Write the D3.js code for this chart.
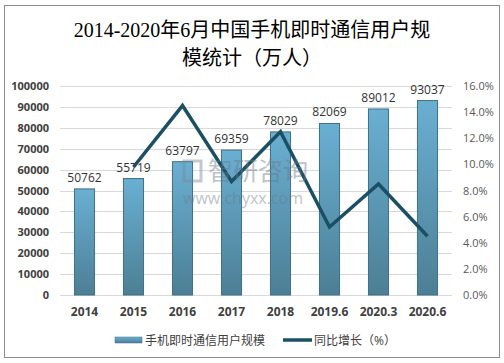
<!DOCTYPE html>
<meta charset="utf-8">
<script src="https://d3js.org/d3.v7.min.js"></script>
<style>
  body { margin: 0; background: #fff; }
  text { font-family: "Open Sans", "Noto Sans CJK SC", sans-serif; }
</style>
<div id="chart"></div>
<script>
  // data
  var categories = ["2014", "2015", "2016", "2017", "2018", "2019.6", "2020.3", "2020.6"];
  var users = [50762, 55719, 63797, 69359, 78029, 82069, 89012, 93037];
  var growth = [null, 9.8, 14.5, 8.7, 12.5, 5.2, 8.5, 4.5];
  var leftTicks = [0, 10000, 20000, 30000, 40000, 50000, 60000, 70000, 80000, 90000, 100000];
  var rightTicks = [0, 2, 4, 6, 8, 10, 12, 14, 16];

  var W = 504, H = 363;
  var margin = {top: 86, right: 52, bottom: 68, left: 60};
  var width = W - margin.left - margin.right,
      height = H - margin.top - margin.bottom;

  var svg = d3.select("#chart").append("svg")
    .attr("width", W).attr("height", H);

  // outer frame
  svg.append("rect")
    .attr("x", 4.5).attr("y", 5.5).attr("width", 495).attr("height", 352)
    .attr("fill", "#fff").attr("stroke", "#8c8c8c").attr("stroke-width", 1);

  var defs = svg.append("defs");
  var grad = defs.append("linearGradient").attr("id", "barGrad")
    .attr("x1", 0).attr("y1", 0).attr("x2", 0).attr("y2", 1);
  grad.append("stop").attr("offset", "0%").attr("stop-color", "#6aafd2");
  grad.append("stop").attr("offset", "100%").attr("stop-color", "#4c7f95");

  // title
  var title = svg.append("text")
    .attr("text-anchor", "middle")
    .style("font-family", "'Liberation Serif', 'Noto Sans CJK SC', serif")
    .style("font-size", "20px")
    .attr("fill", "#000");
  title.append("tspan").attr("x", W / 2).attr("y", 37).text("2014-2020年6月中国手机即时通信用户规");
  title.append("tspan").attr("x", W / 2).attr("y", 65).text("模统计（万人）");

  var g = svg.append("g")
    .attr("transform", "translate(" + margin.left + "," + margin.top + ")");

  var x = d3.scaleBand().domain(categories).range([0, width]).paddingInner(0.59).paddingOuter(0.295);
  var y = d3.scaleLinear().domain([0, 100000]).range([height, 0]);
  var y2 = d3.scaleLinear().domain([0, 16]).range([height, 0]);

  // grid
  g.selectAll(".grid").data(leftTicks).enter().append("line")
    .attr("x1", 0).attr("x2", width)
    .attr("y1", function(d) { return Math.round(y(d)) + 0.5; })
    .attr("y2", function(d) { return Math.round(y(d)) + 0.5; })
    .attr("stroke", "#d9d9d9");

  // left axis
  var yAxis = g.append("g").attr("transform", "translate(-8,0)")
    .call(d3.axisLeft(y).tickValues(leftTicks).tickSize(0).tickPadding(3).tickFormat(d3.format("d")));
  yAxis.select(".domain").remove();
  yAxis.selectAll("text")
    .style("font-size", "11px").style("font-weight", "bold").attr("fill", "#404040");

  // right axis
  var y2Axis = g.append("g").attr("transform", "translate(" + (width + 8) + ",0)")
    .call(d3.axisRight(y2).tickValues(rightTicks).tickSize(0).tickPadding(3)
      .tickFormat(function(d) { return d.toFixed(1) + "%"; }));
  y2Axis.select(".domain").remove();
  y2Axis.selectAll("text")
    .style("font-size", "11px").attr("fill", "#595959");

  // x axis
  var xAxis = g.append("g").attr("transform", "translate(0," + height + ")")
    .call(d3.axisBottom(x).tickSize(0).tickPadding(12));
  xAxis.select(".domain").remove();
  xAxis.selectAll("text")
    .style("font-size", "12px").style("font-weight", "bold").attr("fill", "#404040");

  // bars
  g.selectAll(".bar").data(users).enter().append("rect")
    .attr("x", function(d, i) { return x(categories[i]); })
    .attr("y", function(d) { return y(d); })
    .attr("width", x.bandwidth())
    .attr("height", function(d) { return height - y(d); })
    .attr("fill", "url(#barGrad)")
    .attr("stroke", "#3f6f84").attr("stroke-width", 1);

  // value labels
  g.selectAll(".val").data(users).enter().append("text")
    .attr("x", function(d, i) { return x(categories[i]) + x.bandwidth() / 2; })
    .attr("y", function(d) { return y(d) - 7; })
    .attr("text-anchor", "middle")
    .style("font-size", "12px").attr("fill", "#333")
    .text(function(d) { return d; });

  // watermark
  var wm = svg.append("g").attr("opacity", 0.45);
  wm.append("rect").attr("x", 184).attr("y", 161).attr("width", 17).attr("height", 20)
    .attr("fill", "none").attr("stroke", "#7a8a9a").attr("stroke-width", 3);
  wm.append("text").attr("x", 208).attr("y", 180)
    .style("font-size", "25px").attr("fill", "#6b7a88").text("智研咨询");
  wm.append("text").attr("x", 183).attr("y", 204)
    .style("font-size", "16px").attr("fill", "#6b7a88").text("www.chyxx.com");

  // growth line
  var line = d3.line()
    .defined(function(d) { return d != null; })
    .x(function(d, i) { return x(categories[i]) + x.bandwidth() / 2; })
    .y(function(d) { return y2(d); });
  g.append("path").datum(growth)
    .attr("d", line)
    .attr("fill", "none").attr("stroke", "#1b5064").attr("stroke-width", 3.5)
    .attr("stroke-linejoin", "miter");

  // legend
  var lg = svg.append("g").attr("transform", "translate(0,340)");
  lg.append("rect").attr("x", 115).attr("y", -3).attr("width", 27).attr("height", 6)
    .attr("fill", "url(#barGrad)").attr("stroke", "#3f6f84").attr("stroke-width", 0.5);
  lg.append("text").attr("x", 145).attr("y", 4.5)
    .style("font-size", "12px").attr("fill", "#404040").text("手机即时通信用户规模");
  lg.append("line").attr("x1", 283).attr("x2", 312).attr("y1", 0).attr("y2", 0)
    .attr("stroke", "#1b5064").attr("stroke-width", 3.5);
  lg.append("text").attr("x", 314).attr("y", 4.5)
    .style("font-size", "12px").attr("fill", "#404040").text("同比增长（%）");
</script>
